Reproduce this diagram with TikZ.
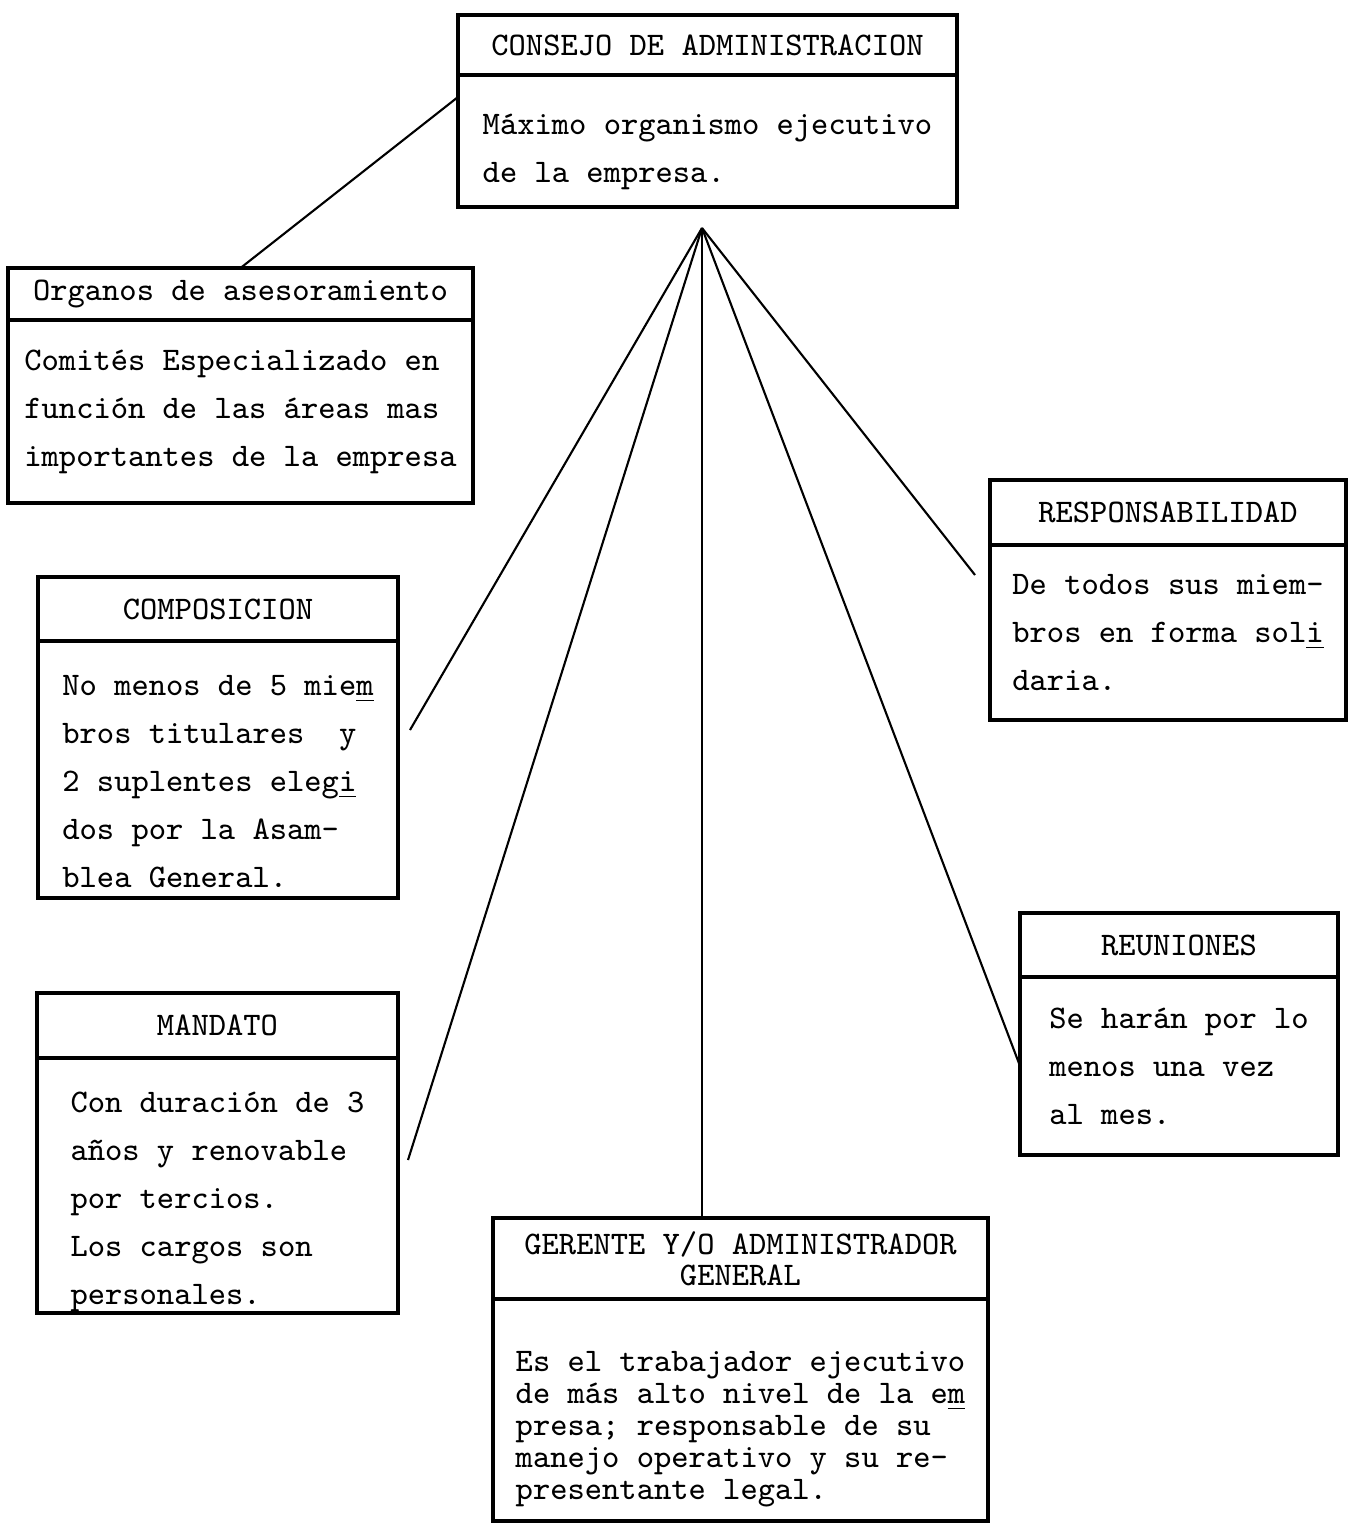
\documentclass[tikz,border=0pt]{standalone}
\usepackage{fontspec}
\usetikzlibrary{positioning}
\newcommand\topgap[1]{\rule{0pt}{#1}}

\begin{document}
\begin{tikzpicture}[
        frame/.style={draw, line width=0.9pt, inner sep=0pt, outer sep=0pt, align=left, font=\ttfamily\fontsize{9.37}{13.66}\selectfont},
        head/.style={frame, align=center},
        link/.style={line width=0.6pt}
    ]
        \useasboundingbox (0,0) rectangle (13.47,-15.24);

        % Consejo
        \node[head, minimum width=4.99cm, minimum height=0.60cm] (conhead) at (7.075, -0.45) {CONSEJO DE ADMINISTRACION};
        \node[frame, minimum width=4.99cm, minimum height=1.32cm, below=0pt of conhead] (conbody) {\topgap{11.8pt}Máximo organismo ejecutivo\\de la empresa.};

        % Organos de asesoramiento
        \node[head, minimum width=4.65cm, minimum height=0.52cm] (orghead) at (2.405, -2.94) {Organos de asesoramiento};
        \node[frame, minimum width=4.65cm, minimum height=1.83cm, below=0pt of orghead] (orgbody) {Comités Especializado en\\función de las áreas mas\\importantes de la empresa};

        % Composicion
        \node[head, minimum width=3.60cm, minimum height=0.64cm] (comphead) at (2.18, -6.09) {COMPOSICION};
        \node[frame, minimum width=3.60cm, minimum height=2.57cm, below=0pt of comphead] (compbody) {\topgap{12.8pt}No menos de 5 mie\underline{m}\\bros titulares~~y\\2 suplentes eleg\underline{i}\\dos por la Asam-\\blea General.};

        % Mandato
        \node[head, minimum width=3.61cm, minimum height=0.65cm] (mandhead) at (2.175, -10.255) {MANDATO};
        \node[frame, minimum width=3.61cm, minimum height=2.55cm, below=0pt of mandhead] (mandbody) {\topgap{15.4pt}Con duración de 3\\años y renovable\\por tercios.\\Los cargos son\\personales.};

        % Gerente
        \node[head, minimum width=4.95cm, minimum height=0.81cm, font=\ttfamily\fontsize{9.37}{8.8}\selectfont] (gerhead) at (7.405, -12.585) {GERENTE Y/O ADMINISTRADOR\\GENERAL};
        \node[frame, minimum width=4.95cm, minimum height=2.22cm, below=0pt of gerhead, font=\ttfamily\fontsize{9.37}{9.1}\selectfont] (gerbody) {\topgap{16.7pt}Es el trabajador ejecutivo\\de más alto nivel de la e\underline{m}\\presa; responsable de su\\manejo operativo y su re-\\presentante legal.};

        % Responsabilidad
        \node[head, minimum width=3.56cm, minimum height=0.65cm] (resphead) at (11.68, -5.125) {RESPONSABILIDAD};
        \node[frame, minimum width=3.56cm, minimum height=1.75cm, below=0pt of resphead] (respbody) {De todos sus miem-\\bros en forma sol\underline{i}\\daria.};

        % Reuniones
        \node[head, minimum width=3.18cm, minimum height=0.64cm] (reunhead) at (11.79, -9.45) {REUNIONES};
        \node[frame, minimum width=3.18cm, minimum height=1.78cm, below=0pt of reunhead] (reunbody) {Se harán por lo\\menos una vez\\al mes.};

        % Connections
        \coordinate (hub) at (7.02, -2.28);
        \coordinate (compend) at (4.10, -7.30);
        \coordinate (mandend) at (4.08, -11.60);
        \coordinate (respend) at (9.75, -5.75);
        \draw[link] (orghead.north) -- (conbody.170);
        \draw[link] (hub) -- (compend);
        \draw[link] (hub) -- (mandend);
        \draw[link] (hub) -- (hub |- gerhead.north);
        \draw[link] (hub) -- (respend);
        \draw[link] (hub) -- (reunbody.west);
    \end{tikzpicture}
\end{document}
